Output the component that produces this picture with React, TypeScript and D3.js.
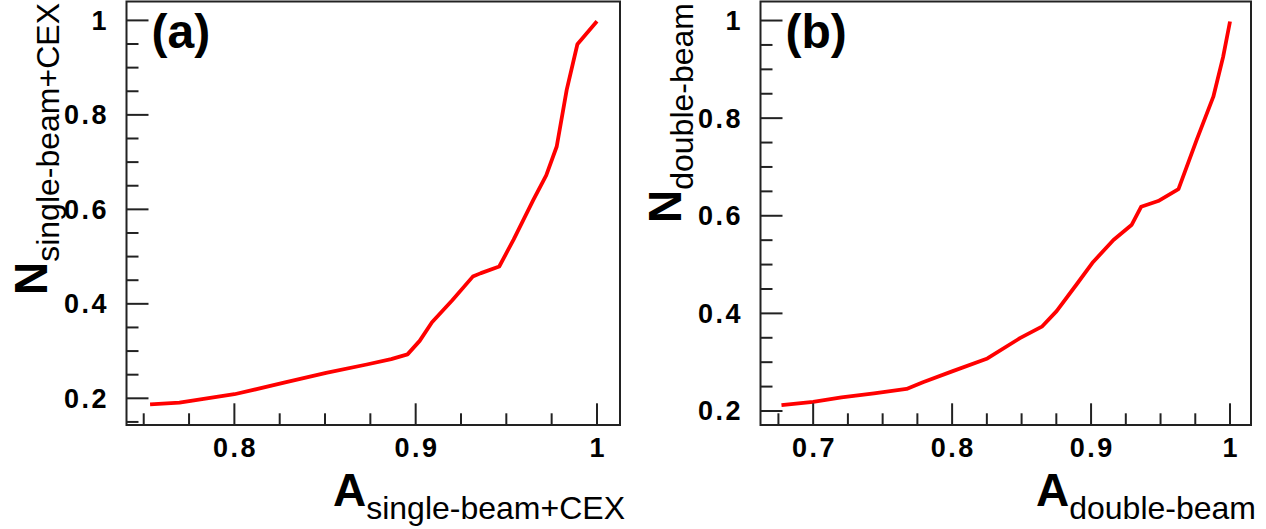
import React from "react";
import * as d3 from "d3";

// Panel (a): single-beam + CEX
const aX = [0.7535, 0.7697, 0.8, 0.828, 0.8506, 0.873, 0.8865, 0.8955, 0.9022, 0.909, 0.9202, 0.9315, 0.936, 0.9461, 0.954, 0.9649, 0.972, 0.9778, 0.9833, 0.9892, 1.0];
const aY = [0.187, 0.1907, 0.2086, 0.2336, 0.2537, 0.2716, 0.283, 0.293, 0.3216, 0.361, 0.4075, 0.4576, 0.465, 0.479, 0.536, 0.62, 0.672, 0.733, 0.853, 0.9496, 0.998];

// Panel (b): double-beam
const bX = [0.6772, 0.7, 0.7204, 0.7438, 0.7672, 0.779, 0.8, 0.8254, 0.8488, 0.8649, 0.8752, 0.8898, 0.9015, 0.9161, 0.9293, 0.936, 0.9483, 0.9629, 0.976, 0.988, 0.995, 1.0];
const bY = [0.2118, 0.2187, 0.2278, 0.2361, 0.2451, 0.259, 0.2812, 0.3076, 0.3492, 0.3735, 0.4047, 0.4602, 0.5053, 0.5504, 0.5816, 0.6184, 0.6302, 0.6544, 0.7553, 0.844, 0.925, 0.998];

const aXTicks = [0.8, 0.9, 1];
const bXTicks = [0.7, 0.8, 0.9, 1];
const yTicks = [0.2, 0.4, 0.6, 0.8, 1];

const aXDomain = [0.7405, 1.0127];
const aYDomain = [0.1435, 1.04];
const bXDomain = [0.6621, 1.0151];
const bYDomain = [0.1713, 1.039];

const FONT = "'Liberation Sans', Arial, Helvetica, sans-serif";

type PanelProps = {
  xs: number[];
  ys: number[];
  xDomain: number[];
  yDomain: number[];
  xTicks: number[];
  left: number;
  right: number;
  tag: string;
  sub: string;
};

function fmt(v: number) {
  return v === 1 ? "1" : String(v);
}

function Panel({ xs, ys, xDomain, yDomain, xTicks, left, right, tag, sub }: PanelProps) {
  const top = 1.5;
  const bottom = 425;
  const x = d3.scaleLinear().domain(xDomain).range([left, right]);
  const y = d3.scaleLinear().domain(yDomain).range([bottom, top]);

  const minorX: number[] = [];
  for (let v = Math.ceil(xDomain[0] / 0.025) * 0.025; v <= xDomain[1] + 1e-9; v += 0.025) {
    const r = Math.round(v * 1000) / 1000;
    if (!xTicks.some((t) => Math.abs(t - r) < 1e-6)) minorX.push(r);
  }
  const minorY: number[] = [];
  for (let v = Math.ceil(yDomain[0] / 0.05) * 0.05; v <= yDomain[1] + 1e-9; v += 0.05) {
    const r = Math.round(v * 1000) / 1000;
    if (!yTicks.some((t) => Math.abs(t - r) < 1e-6)) minorY.push(r);
  }

  const pts = xs.map((v, i) => [v, ys[i]] as [number, number]);
  const line = d3
    .line<[number, number]>()
    .x((d) => x(d[0]))
    .y((d) => y(d[1]));

  const axisColor = "#222";
  const ls = 2.5;
  return (
    <g>
      <path d={line(pts) || ""} fill="none" stroke="#ff0000" strokeWidth={3.8} strokeLinejoin="round" />
      <rect x={left} y={top} width={right - left} height={bottom - top} fill="none" stroke={axisColor} strokeWidth={2} />
      {xTicks.map((t) => (
        <line key={"xM" + t} x1={x(t)} x2={x(t)} y1={bottom} y2={bottom - 21.7} stroke={axisColor} strokeWidth={2} />
      ))}
      {minorX.map((t) => (
        <line key={"xm" + t} x1={x(t)} x2={x(t)} y1={bottom} y2={bottom - 11.7} stroke={axisColor} strokeWidth={2} />
      ))}
      {yTicks.map((t) => (
        <line key={"yM" + t} x1={left} x2={left + 22} y1={y(t)} y2={y(t)} stroke={axisColor} strokeWidth={2} />
      ))}
      {minorY.map((t) => (
        <line key={"ym" + t} x1={left} x2={left + 12} y1={y(t)} y2={y(t)} stroke={axisColor} strokeWidth={2} />
      ))}
      {xTicks.map((t) => (
        <text key={"xl" + t} x={x(t) + ls / 2} y={457} textAnchor="middle" fontFamily={FONT} fontWeight="bold" fontSize={27} letterSpacing={ls} fill="#000">
          {fmt(t)}
        </text>
      ))}
      {yTicks.map((t) => (
        <text key={"yl" + t} x={left - 20 + ls} y={y(t) + 9.5} textAnchor="end" fontFamily={FONT} fontWeight="bold" fontSize={27} letterSpacing={ls} fill="#000">
          {fmt(t)}
        </text>
      ))}
      <text x={left + 25} y={48} fontFamily={FONT} fontWeight="bold" fontSize={48} fill="#000">
        {tag}
      </text>
      <text x={right + 5} y={506} textAnchor="end" fontFamily={FONT} fill="#000">
        <tspan fontWeight="bold" fontSize={46}>A</tspan>
        <tspan fontSize={32} dy={13}>{sub}</tspan>
      </text>
      <text transform={`translate(${left - 80},3) rotate(-90)`} textAnchor="end" fontFamily={FONT} fill="#000">
        <tspan fontWeight="bold" fontSize={46}>N</tspan>
        <tspan fontSize={32} dy={12}>{sub}</tspan>
      </text>
    </g>
  );
}

export default function App() {
  return (
    <svg width={1266} height={529} style={{ position: "absolute", left: 0, top: 0, background: "#fff" }}>
      <rect x={0} y={0} width={1266} height={529} fill="#fff" />
      <Panel xs={aX} ys={aY} xDomain={aXDomain} yDomain={aYDomain} xTicks={aXTicks} left={126.5} right={620} tag="(a)" sub="single-beam+CEX" />
      <Panel xs={bX} ys={bY} xDomain={bXDomain} yDomain={bYDomain} xTicks={bXTicks} left={760.5} right={1251} tag="(b)" sub="double-beam" />
    </svg>
  );
}
